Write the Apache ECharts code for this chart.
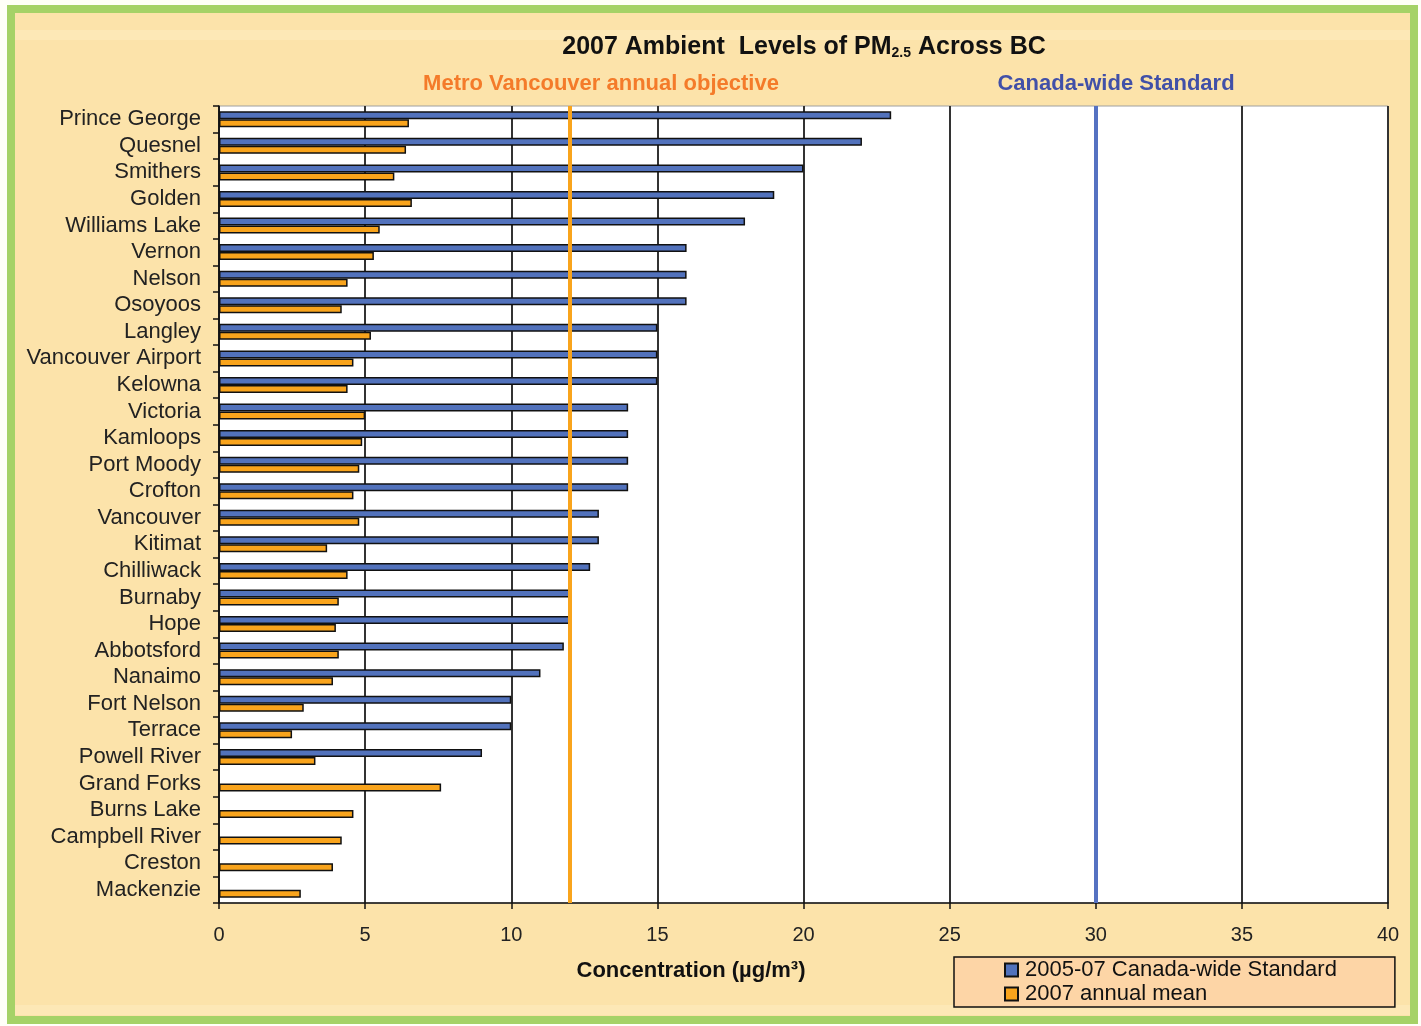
<!DOCTYPE html>
<html>
<head>
<meta charset="utf-8">
<script src="https://cdn.jsdelivr.net/npm/echarts@6/dist/echarts.min.js"></script>
<style>
html,body{margin:0;padding:0;background:#FFFFF8;}
#chart{width:1421px;height:1026px;}
</style>
</head>
<body>
<div id="chart"></div>
<script>
const categories = ['Prince George','Quesnel','Smithers','Golden','Williams Lake','Vernon','Nelson','Osoyoos','Langley','Vancouver Airport','Kelowna','Victoria','Kamloops','Port Moody','Crofton','Vancouver','Kitimat','Chilliwack','Burnaby','Hope','Abbotsford','Nanaimo','Fort Nelson','Terrace','Powell River','Grand Forks','Burns Lake','Campbell River','Creston','Mackenzie'];
const cwsValues = [23,22,20,19,18,16,16,16,15,15,15,14,14,14,14,13,13,12.7,12,12,11.8,11,10,10,9,null,null,null,null,null];
const meanValues = [6.5,6.4,6.0,6.6,5.5,5.3,4.4,4.2,5.2,4.6,4.4,5.0,4.9,4.8,4.6,4.8,3.7,4.4,4.1,4.0,4.1,3.9,2.9,2.5,3.3,7.6,4.6,4.2,3.9,2.8];
const seriesNames = ['2005-07 Canada-wide Standard','2007 annual mean'];
const xMin = 0, xMax = 40, xInterval = 5;
const objectiveValue = 12;
const cwsStandardValue = 30;

const FONT = '"Liberation Sans", Arial, sans-serif';
const chart = echarts.init(document.getElementById('chart'));
const option = {
  animation: false,
  backgroundColor: '#FFFFF8',
  graphic: [
    {type:'rect', z:-10, shape:{x:7,y:5,width:1411,height:1019}, style:{fill:'#A5D267'}},
    {type:'rect', z:-9, shape:{x:15,y:13,width:1395,height:1003}, style:{fill:'#FCE3AA'}},
    {type:'rect', z:-8, shape:{x:15,y:30,width:1395,height:10}, style:{fill:'#FDE8B6'}},
    {type:'rect', z:-8, shape:{x:15,y:1005,width:1395,height:10}, style:{fill:'#FDE8B6'}},
    {type:'text', z:10, style:{x:804, y:47, align:'center', verticalAlign:'middle',
      text:'{m|2007 Ambient  Levels of PM}{s|2.5}{m| Across BC}',
      rich:{m:{font:'bold 25px '+FONT, fill:'#111', height:30},
            s:{font:'bold 14px '+FONT, fill:'#111', verticalAlign:'bottom', height:30, padding:[13,0,0,0]}}}},
    {type:'text', z:10, style:{x:601, y:84, align:'center', verticalAlign:'middle',
      text:'Metro Vancouver annual objective', font:'bold 22px '+FONT, fill:'#F47B2A'}},
    {type:'text', z:10, style:{x:1116, y:84, align:'center', verticalAlign:'middle',
      text:'Canada-wide Standard', font:'bold 22px '+FONT, fill:'#4150A8'}},
    {type:'text', z:10, style:{x:691, y:971, align:'center', verticalAlign:'middle',
      text:'Concentration (µg/m³)', font:'bold 22px '+FONT, fill:'#111'}}
  ],
  grid: {left:219, right:33, top:106, bottom:123, show:true, backgroundColor:'#FFFFFF', borderColor:'#A0A0A0', borderWidth:1},
  legend: {
    data: seriesNames, orient:'vertical', left:954, top:957,
    backgroundColor:'#FDD5A6', borderColor:'#111', borderWidth:1.5,
    padding:[2,58,2,50], itemWidth:13, itemHeight:13, itemGap:2,
    icon:'rect',
    textStyle:{fontFamily:FONT, fontSize:22, color:'#111', padding:[0,0,0,2]}
  },
  xAxis: {
    type:'value', min:xMin, max:xMax, interval:xInterval,
    axisLine:{show:true, lineStyle:{color:'#111', width:1.5}},
    axisTick:{show:true, length:6, lineStyle:{color:'#111', width:1.5}},
    axisLabel:{fontFamily:FONT, fontSize:20, color:'#222', margin:22},
    splitLine:{show:true, lineStyle:{color:'#333', width:2}}
  },
  yAxis: {
    type:'category', data:categories, inverse:true,
    axisLine:{show:true, lineStyle:{color:'#111', width:1.5}},
    axisTick:{show:true, length:6, lineStyle:{color:'#111', width:1.5}},
    axisLabel:{fontFamily:FONT, fontSize:22, color:'#222', margin:18, interval:0},
    splitLine:{show:false}
  },
  series: [
    {name:seriesNames[0], type:'bar', data:cwsValues, barWidth:8, barGap:'0%',
     itemStyle:{color:'#5272BC', borderColor:'#111', borderWidth:1.5},
     markLine:{silent:true, symbol:'none', label:{show:false}, z:5,
       lineStyle:{type:'solid', color:'#5572C2', width:4},
       data:[{xAxis:cwsStandardValue}]}},
    {name:seriesNames[1], type:'bar', data:meanValues, barWidth:8, barGap:'0%',
     itemStyle:{color:'#F9A41C', borderColor:'#111', borderWidth:1.5},
     markLine:{silent:true, symbol:'none', label:{show:false}, z:5,
       lineStyle:{type:'solid', color:'#F9A41C', width:4},
       data:[{xAxis:objectiveValue}]}}
  ]
};
chart.setOption(option);
</script>
</body>
</html>
